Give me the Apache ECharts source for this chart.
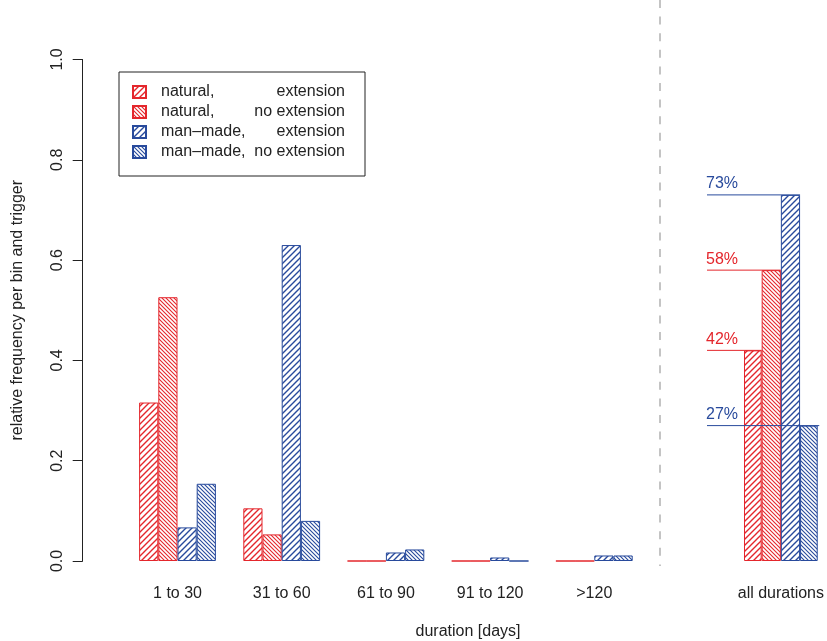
<!DOCTYPE html>
<html>
<head>
<meta charset="utf-8">
<script src="https://cdn.jsdelivr.net/npm/echarts@6/dist/echarts.min.js"></script>
<style>
  html, body { margin: 0; padding: 0; background: #fff; }
  #chart { width: 827px; height: 641px; }
</style>
</head>
<body>
<div id="chart"></div>
<script>
// data
var categories = ['1 to 30', '31 to 60', '61 to 90', '91 to 120', '>120'];
var naturalExt = [0.316, 0.105, 0, 0, 0];
var naturalNoExt = [0.526, 0.053, 0, 0, 0];
var manmadeExt = [0.067, 0.630, 0.017, 0.007, 0.011];
var manmadeNoExt = [0.154, 0.080, 0.023, 0, 0.011];
var allCategory = ['all durations'];
var allTotals = [0.42, 0.58, 0.73, 0.27];
var totalLabels = ['42%', '58%', '73%', '27%'];
var yTicks = [0, 0.2, 0.4, 0.6, 0.8, 1.0];
var seriesNames = ['natural, extension', 'natural, no extension', 'man\u2013made, extension', 'man\u2013made, no extension'];

var RED = '#e4262c';
var BLUE = '#284a9c';
var FONT = 'Liberation Sans';
var BAR_W = 19.2;

// hatch tile: forward = "/", otherwise "\"
function hatch(color, step, forward, lw) {
    var c = document.createElement('canvas');
    c.width = step; c.height = step;
    var ctx = c.getContext('2d');
    ctx.strokeStyle = color;
    ctx.lineWidth = lw;
    ctx.beginPath();
    if (forward) {
        ctx.moveTo(-1, step + 1); ctx.lineTo(step + 1, -1);
        ctx.moveTo(-2, 2); ctx.lineTo(2, -2);
        ctx.moveTo(step - 2, step + 2); ctx.lineTo(step + 2, step - 2);
    } else {
        ctx.moveTo(-1, -1); ctx.lineTo(step + 1, step + 1);
        ctx.moveTo(step - 2, -2); ctx.lineTo(step + 2, 2);
        ctx.moveTo(-2, step - 2); ctx.lineTo(2, step + 2);
    }
    ctx.stroke();
    return { image: c, repeat: 'repeat' };
}

var styles = [
    { color: hatch(RED, 6, true, 1.4), borderColor: RED, borderWidth: 1 },
    { color: hatch(RED, 4, false, 1.1), borderColor: RED, borderWidth: 1 },
    { color: hatch(BLUE, 6, true, 1.4), borderColor: BLUE, borderWidth: 1 },
    { color: hatch(BLUE, 4, false, 1.1), borderColor: BLUE, borderWidth: 1 }
];
var groupData = [naturalExt, naturalNoExt, manmadeExt, manmadeNoExt];
var lineColors = [RED, RED, BLUE, BLUE];

var chart = echarts.init(document.getElementById('chart'), null, { renderer: 'canvas' });

var series = [];
for (var i = 0; i < 4; i++) {
    series.push({
        name: seriesNames[i], type: 'bar', xAxisIndex: 0, yAxisIndex: 0,
        data: groupData[i], barWidth: BAR_W, barGap: '0%',
        itemStyle: styles[i], emphasis: { disabled: true }, animation: false
    });
}
for (var j = 0; j < 4; j++) {
    series.push({
        name: seriesNames[j], type: 'bar', xAxisIndex: 1, yAxisIndex: 1,
        data: [allTotals[j]], barWidth: BAR_W, barGap: '0%',
        itemStyle: styles[j], emphasis: { disabled: true }, animation: false
    });
}
// reference lines + percent labels for the "all durations" group
series.push({
    type: 'custom', xAxisIndex: 1, yAxisIndex: 1, clip: false, z: 5, silent: true, animation: false,
    data: allTotals.map(function (v, k) { return [0, v, k]; }),
    renderItem: function (params, api) {
        var k = api.value(2);
        var p = api.coord([0, api.value(1)]);
        var x0 = 707;
        var x1 = p[0] + (k - 1) * BAR_W;
        return {
            type: 'group',
            children: [
                { type: 'line', shape: { x1: x0, y1: p[1], x2: x1, y2: p[1] },
                  style: { stroke: lineColors[k], lineWidth: 1 } },
                { type: 'text', x: x0 - 1, y: p[1] - 11,
                  style: { text: totalLabels[k], fill: lineColors[k], font: '16px "' + FONT + '"',
                           align: 'left', verticalAlign: 'middle' } }
            ]
        };
    }
});

var option = {
    backgroundColor: '#fff',
    textStyle: { fontFamily: FONT },
    legend: {
        data: seriesNames,
        orient: 'vertical', left: 119, top: 72,
        icon: 'rect', itemWidth: 13, itemHeight: 12, itemGap: 4,
        padding: [12, 20, 16, 13],
        borderColor: '#222', borderWidth: 1, borderRadius: 0,
        selectedMode: false,
        formatter: function (name) {
            var parts = name.split(', ');
            return '{s| }{a|' + parts[0] + ',}{b|' + parts[1] + '}';
        },
        textStyle: {
            fontSize: 16, color: '#222', lineHeight: 16,
            rich: {
                s: { width: 10, fontSize: 16 },
                a: { width: 88, fontSize: 16, color: '#222', fontFamily: FONT },
                b: { width: 96, align: 'right', fontSize: 16, color: '#222', fontFamily: FONT }
            }
        }
    },
    grid: [
        { left: 125.4, right: 180.6, top: 59.5, bottom: 80 },
        { left: 744.5, width: 80, top: 59.5, bottom: 80 }
    ],
    xAxis: [
        { type: 'category', gridIndex: 0, data: categories,
          axisLine: { show: false }, axisTick: { show: false }, splitLine: { show: false },
          axisLabel: { fontSize: 16, color: '#222', margin: 25, fontFamily: FONT } },
        { type: 'category', gridIndex: 1, data: allCategory,
          axisLine: { show: false }, axisTick: { show: false }, splitLine: { show: false },
          axisLabel: { fontSize: 16, color: '#222', margin: 25, fontFamily: FONT } }
    ],
    yAxis: [
        { type: 'value', gridIndex: 0, min: 0, max: 1, interval: 0.2, offset: 42.7,
          name: 'relative frequency per bin and trigger', nameLocation: 'middle', nameGap: 57,
          nameTextStyle: { fontSize: 16, color: '#222', fontFamily: FONT },
          axisLine: { show: true, lineStyle: { color: '#222', width: 1 } },
          axisTick: { show: true, length: 10, lineStyle: { color: '#222' } },
          splitLine: { show: false },
          axisLabel: { fontSize: 16, color: '#222', rotate: 90, margin: 17, fontFamily: FONT,
                       customValues: yTicks,
                       formatter: function (v) { return v.toFixed(1); } } },
        { type: 'value', gridIndex: 1, min: 0, max: 1, interval: 0.2, show: false }
    ],
    graphic: [
        { type: 'line', shape: { x1: 660, y1: 0, x2: 660, y2: 566 },
          style: { stroke: '#c4c4c4', lineWidth: 2, lineDash: [8, 8.6] }, silent: true },
        { type: 'text', x: 468, y: 632,
          style: { text: 'duration [days]', font: '16px "' + FONT + '"', fill: '#222',
                   align: 'center', verticalAlign: 'middle' }, silent: true }
    ],
    series: series
};

chart.setOption(option);
</script>
</body>
</html>
